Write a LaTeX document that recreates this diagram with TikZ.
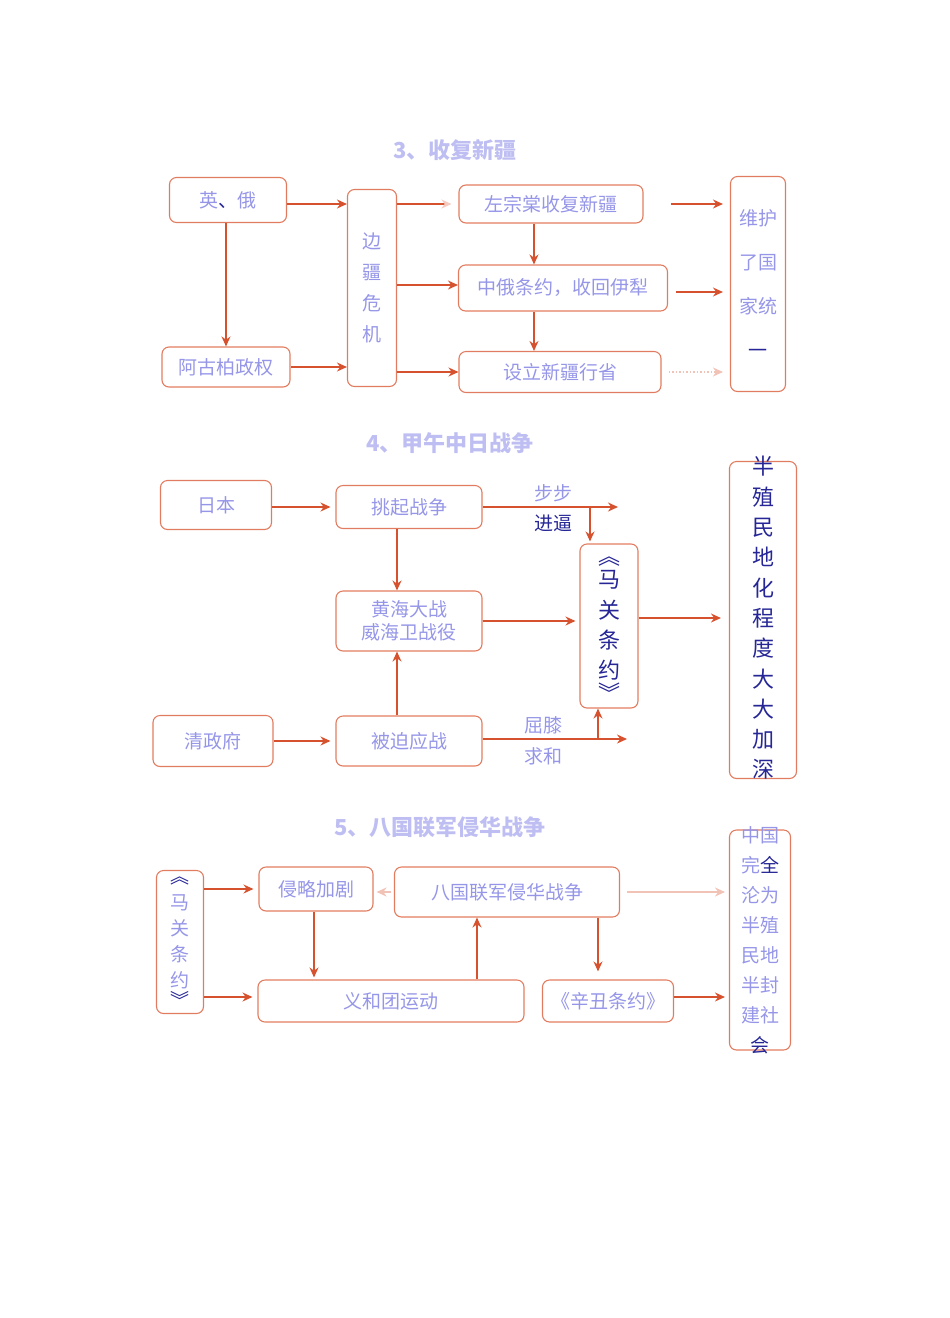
\documentclass[tikz,border=0pt]{standalone}
\usepackage{fontspec}
\newfontfamily\cjk{Noto Sans CJK SC}
\usetikzlibrary{arrows.meta}
\definecolor{boxline}{RGB}{226,124,96}
\definecolor{arrline}{RGB}{214,82,46}
\definecolor{fadeblue}{RGB}{150,150,232}
\definecolor{darkblue}{RGB}{38,38,150}
\definecolor{titleblue}{RGB}{190,190,242}

\begin{document}
\begin{tikzpicture}[x=1pt, y=-1pt,
    box/.style={draw=boxline, rounded corners=7pt, line width=1.1pt, inner sep=0pt,
      text=fadeblue, align=center, font=\cjk\fontsize{19}{23}\selectfont},
    vtext/.style={inner sep=0pt, align=center, text=fadeblue, font=\cjk\fontsize{19}{30}\selectfont},
    bigtext/.style={inner sep=0pt, align=center, text=darkblue, font=\cjk\fontsize{22}{30.3}\selectfont},
    title/.style={text=titleblue, font=\cjk\bfseries\fontsize{22}{26}\selectfont},
    lbl/.style={inner sep=0pt, font=\cjk\fontsize{19}{23}\selectfont},
    arr/.style={draw=arrline, line width=1.5pt, -{Stealth[length=10pt, width=9pt]}},
    faint/.style={draw=arrline!35, line width=1.5pt, -{Stealth[length=10pt, width=9pt]}}]
\useasboundingbox (0,0) rectangle (950,1318);

% 3. recovering Xinjiang
\node[title] (t3) at (455,150) {3、收复新疆};
\node[box, minimum width=117pt, minimum height=45pt] (yinge) at (228,200) {英{\color{darkblue}、}俄};
\node[box, minimum width=128pt, minimum height=40pt] (agubo) at (226,367) {阿古柏政权};
\node[box, minimum width=49pt, minimum height=197pt, font=\cjk\fontsize{19}{31}\selectfont] (bianjiang) at (372,288) {边\\疆\\危\\机};
\node[box, minimum width=184pt, minimum height=38pt] (zuo) at (551,204) {左宗棠收复新疆};
\node[box, minimum width=209pt, minimum height=46pt] (zhonge) at (563,288) {中俄条约，收回伊犁};
\node[box, minimum width=202pt, minimum height=41pt] (sheli) at (560,372) {设立新疆行省};
\node[box, minimum width=55pt, minimum height=215pt, font=\cjk\fontsize{19}{44}\selectfont] (weihu) at (758,284) {维护\\了国\\家统\\{\color{darkblue}一}};

\coordinate (col3) at (534,0);
\draw[arr] (yinge.east |- 0,204) -- (bianjiang.west |- 0,204);
\draw[arr] (yinge.south -| agubo) -- (agubo.north);
\draw[arr] (agubo.east) -- (agubo.east -| bianjiang.west);
\draw[draw=arrline, line width=1.5pt, -{Stealth[length=10pt, width=9pt, color=arrline!30]}, shorten >=7pt] (bianjiang.east |- zuo.west) -- (zuo.west);
\draw[arr] (bianjiang.east |- 0,285) -- (zhonge.west |- 0,285);
\draw[arr] (bianjiang.east |- sheli.west) -- (sheli.west);
\draw[arr] (zuo.south -| col3) -- (zhonge.north -| col3);
\draw[arr] (zhonge.south -| col3) -- (sheli.north -| col3);
\draw[arr, shorten <=27pt, shorten >=7pt] (zuo.east) -- (zuo.east -| weihu.west);
\draw[arr, shorten <=8pt, shorten >=7pt] (zhonge.east |- 0,292) -- (weihu.west |- 0,292);
\draw[faint, dotted, shorten <=7pt, shorten >=7pt] (sheli.east) -- (sheli.east -| weihu.west);

% 4. Sino-Japanese war
\node[title] (t4) at (450,443) {4、甲午中日战争};
\node[box, minimum width=111pt, minimum height=49pt] (riben) at (216,505) {日本};
\node[box, minimum width=146pt, minimum height=43pt] (tiaoqi) at (409,507) {挑起战争};
\node[box, minimum width=146pt, minimum height=60pt] (huanghai) at (409,621) {黄海大战\\威海卫战役};
\node[box, minimum width=120pt, minimum height=51pt] (qingzf) at (213,741) {清政府};
\node[box, minimum width=146pt, minimum height=50pt] (beipo) at (409,741) {被迫应战};
\node[box, minimum width=58pt, minimum height=164pt] (maguan) at (609,626) {};
\node[bigtext] (maguantxt) at (609,629) {︽\\[-7pt]马\\关\\条\\约\\[-8pt]︾};
\node[box, minimum width=67pt, minimum height=317pt] (banzhi) at (763,620) {};
\node[bigtext] (banzhitxt) at (763,618) {半\\殖\\民\\地\\化\\程\\度\\大\\大\\加\\深};

\coordinate (jinbi) at (618,507);
\coordinate (jbsplit) at (590,507);
\coordinate (qiuhe) at (627,739);
\coordinate (qhsplit) at (598,739);
\node[lbl, text=fadeblue] (bubu) at (553,493) {步步};
\node[lbl, text=darkblue] (jinbilbl) at (553,523) {进逼};
\node[lbl, text=fadeblue] (quxi) at (543,725) {屈膝};
\node[lbl, text=fadeblue] (qiuhelbl) at (543,756) {求和};

\draw[arr, shorten >=5pt] (riben.east |- 0,507) -- (tiaoqi.west);
\draw[arr] ([xshift=-12pt]tiaoqi.south) -- ([xshift=-12pt]huanghai.north);
\draw[arr] ([xshift=-12pt]beipo.north) -- ([xshift=-12pt]huanghai.south);
\draw[arr, shorten >=5pt] (qingzf.east |- beipo.west) -- (beipo.west);
\draw[arr, shorten >=4pt] (huanghai.east) -- (huanghai.east -| maguan.west);
\draw[arr] (tiaoqi.east) -- (jinbi);
\draw[arr, shorten >=2pt] (jbsplit) -- (jbsplit |- maguan.north);
\draw[arr] (beipo.east |- qiuhe) -- (qiuhe);
\draw[arr] (qhsplit) -- (qhsplit |- maguan.south);
\draw[arr, shorten >=8pt] ([yshift=8pt]maguan.east) -- ([yshift=8pt]maguan.east -| banzhi.west);

% 5. Eight-Nation Alliance
\node[title] (t5) at (440,827) {5、八国联军侵华战争};
\node[box, minimum width=47pt, minimum height=143pt] (maguan2) at (180,942) {};
\node[vtext, font=\cjk\fontsize{19}{26}\selectfont] (maguan2txt) at (180,942) {{\color{darkblue}︽}\\马\\关\\条\\约\\[-6pt]{\color{darkblue}︾}};
\node[box, minimum width=114pt, minimum height=44pt] (qinlue) at (316,889) {侵略加剧};
\node[box, minimum width=225pt, minimum height=50pt] (baguo) at (507,892) {八国联军侵华战争};
\node[box, minimum width=266pt, minimum height=42pt] (yihetuan) at (391,1001) {义和团运动};
\node[box, minimum width=131pt, minimum height=42pt] (xinchou) at (608,1001) {《辛丑条约》};
\node[box, minimum width=61pt, minimum height=220pt] (wanquan) at (760,940) {};
\node[vtext] (wanquantxt) at (760,940) {中国\\完{\color{darkblue}全}\\沦为\\半殖\\民地\\半封\\建社\\{\color{darkblue}会}};

\draw[arr, shorten >=5pt] (maguan2.east |- qinlue.west) -- (qinlue.west);
\draw[arr, shorten >=5pt] (maguan2.east |- 0,997) -- (yihetuan.west |- 0,997);
\draw[arr, shorten >=2pt] ([xshift=-2pt]qinlue.south) -- ([xshift=-2pt]qinlue.south |- yihetuan.north);
\draw[arr] ([xshift=-30pt]baguo.south |- yihetuan.north) -- ([xshift=-30pt]baguo.south);
\draw[arr, shorten >=8pt] ([xshift=91pt]baguo.south) -- ([xshift=91pt]baguo.south |- xinchou.north);
\draw[faint, shorten <=3pt, shorten >=3pt] (baguo.west) -- (baguo.west -| qinlue.east);
\draw[faint, shorten <=7pt, shorten >=4pt] (baguo.east) -- (baguo.east -| wanquan.west);
\draw[arr, shorten >=4pt] (xinchou.east |- 0,997) -- (wanquan.west |- 0,997);
\end{tikzpicture}
\end{document}
